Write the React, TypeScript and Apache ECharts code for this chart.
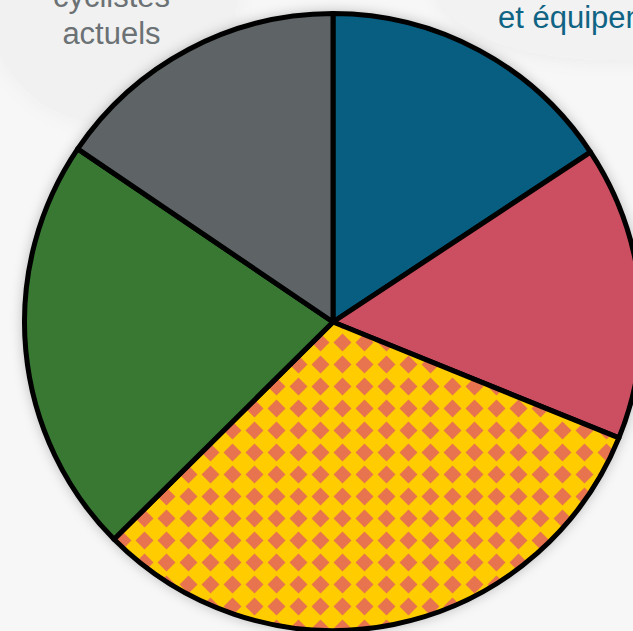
import React, { useEffect, useRef } from "react";
import * as echarts from "echarts";

const categories = [
  "Infrastructures et équipements",
  "Sécurité",
  "Nouveaux cyclistes",
  "Services",
  "Cyclistes actuels",
];
const values = [15.7, 15.4, 31.4, 21.9, 15.5];
const sliceColors = ["#075e80", "#cc4f61", "#ffcc00", "#387833", "#5e6466"];
const patternBg = "#ffcc00";
const patternFg = "#e8744f";

function makePatternTile(): HTMLCanvasElement {
  const P = 22;
  const c = document.createElement("canvas");
  c.width = P;
  c.height = P;
  const ctx = c.getContext("2d")!;
  ctx.fillStyle = patternBg;
  ctx.fillRect(0, 0, P, P);
  ctx.fillStyle = patternFg;
  const cx = 12.5;
  const cy = 12.5;
  const h = 9;
  for (const dx of [-P, 0, P]) {
    for (const dy of [-P, 0, P]) {
      ctx.beginPath();
      ctx.moveTo(cx + dx, cy + dy - h);
      ctx.lineTo(cx + dx + h, cy + dy);
      ctx.lineTo(cx + dx, cy + dy + h);
      ctx.lineTo(cx + dx - h, cy + dy);
      ctx.closePath();
      ctx.fill();
    }
  }
  return c;
}

export default function App() {
  const ref = useRef<HTMLDivElement>(null);
  useEffect(() => {
    if (!ref.current) return;
    const chart = echarts.init(ref.current, null, { renderer: "svg" });
    const tile = makePatternTile();
    const data = categories.map((name, i) => ({
      name,
      value: values[i],
      itemStyle: {
        color:
          i === 2
            ? { image: tile, repeat: "repeat", imageWidth: 22, imageHeight: 22 }
            : sliceColors[i],
      },
    }));
    const font = "31px 'Liberation Sans', Arial, sans-serif";
    chart.setOption({
      animation: false,
      backgroundColor: "#f7f7f7",
      graphic: [
        {
          type: "circle",
          z: -10,
          shape: { cx: 112, cy: 0, r: 125 },
          style: { fill: "#f1f1f1", shadowBlur: 20, shadowColor: "rgba(0,0,0,0.04)" },
          silent: true,
        },
        {
          type: "ellipse",
          z: -10,
          shape: { cx: 610, cy: -10, rx: 170, ry: 70 },
          style: { fill: "#f2f2f2", shadowBlur: 20, shadowColor: "rgba(0,0,0,0.06)" },
          silent: true,
        },
        {
          type: "text",
          z: 10,
          style: {
            text: "cyclistes",
            x: 111.5,
            y: -3.5,
            textAlign: "center",
            textVerticalAlign: "middle",
            font,
            fill: "#6b7174",
          },
        },
        {
          type: "text",
          z: 10,
          style: {
            text: "actuels",
            x: 111.5,
            y: 33,
            textAlign: "center",
            textVerticalAlign: "middle",
            font,
            fill: "#6b7174",
          },
        },
        {
          type: "text",
          z: 10,
          style: {
            text: "et équipements",
            x: 498,
            y: 17.5,
            textAlign: "left",
            textVerticalAlign: "middle",
            font,
            fill: "#0f6383",
          },
        },
      ],
      series: [
        {
          type: "pie",
          silent: true,
          center: [333, 322],
          radius: [0, 308.5],
          label: { show: false },
          labelLine: { show: false },
          itemStyle: {
            color: "#f7f7f7",
            shadowBlur: 14,
            shadowColor: "rgba(0,0,0,0.35)",
          },
          data: [{ name: "shadow", value: 1 }],
        },
        {
          type: "pie",
          center: [333, 322],
          radius: [0, 308.5],
          startAngle: 90,
          clockwise: true,
          label: { show: false },
          labelLine: { show: false },
          emphasis: { disabled: true },
          itemStyle: { borderColor: "#000", borderWidth: 5 },
          data,
        },
      ],
    });
    return () => chart.dispose();
  }, []);
  return (
    <div
      ref={ref}
      style={{ position: "fixed", left: 0, top: 0, width: 633, height: 631 }}
    />
  );
}
